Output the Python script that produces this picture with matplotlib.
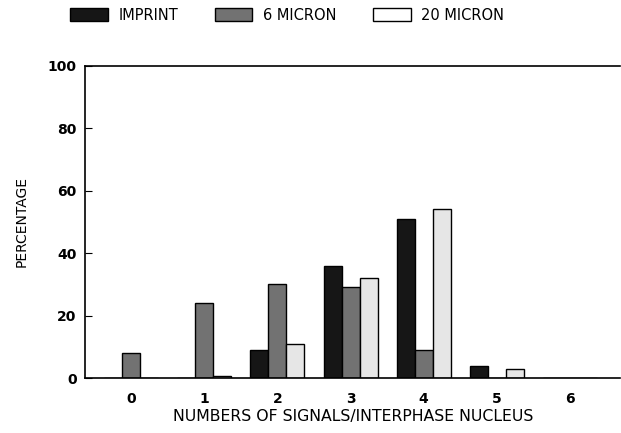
import matplotlib.pyplot as plt
import numpy as np

# data
categories = ['0', '1', '2', '3', '4', '5', '6']
imprint = [0, 0, 9, 36, 51, 4, 0]
micron6 = [8, 24, 30, 29, 9, 0, 0]
micron20 = [0, 0.5, 11, 32, 54, 3, 0]
series_names = ['IMPRINT', '6 MICRON', '20 MICRON']

plt.rcParams['font.family'] = ['DejaVu Sans']

fig = plt.figure(figsize=(6.21, 4.33), dpi=100)
ax = fig.add_axes([0.137, 0.127, 0.862, 0.721])

x = np.arange(len(categories))
w = 0.246
colors = ['#161616', '#727272', '#e6e6e6']
for k, (vals, name, col) in enumerate(zip([imprint, micron6, micron20], series_names, colors)):
    ax.bar(x + (k - 1) * w, vals, width=w, color=col, edgecolor='black',
           linewidth=1.0, label=name)

ax.set_xlim(-0.63, 6.69)
ax.set_ylim(0, 100)
ax.set_yticks([0, 20, 40, 60, 80, 100])
ax.set_xticks(x)
ax.set_xticklabels(categories, fontweight='bold')
for t in ax.get_yticklabels():
    t.set_fontweight('bold')
ax.tick_params(axis='y', direction='in', length=5, labelsize=10, pad=6)
ax.tick_params(axis='x', length=0, labelsize=10, pad=10)
for s in ['left', 'top', 'bottom']:
    ax.spines[s].set_linewidth(1.2)
ax.spines['right'].set_visible(False)

ax.set_ylabel('PERCENTAGE', fontsize=10, labelpad=14)
ax.set_xlabel('NUMBERS OF SIGNALS/INTERPHASE NUCLEUS', fontsize=11.3, labelpad=2)

leg = fig.legend(loc='center left', bbox_to_anchor=(0.113, 0.965), ncol=3, frameon=False,
                 fontsize=10.5, handlelength=2.6, handleheight=0.95, columnspacing=2.5,
                 handletextpad=0.7, borderaxespad=0, borderpad=0)
leg.get_patches()[2].set_facecolor('white')

fig.savefig('out.png', dpi=100)
